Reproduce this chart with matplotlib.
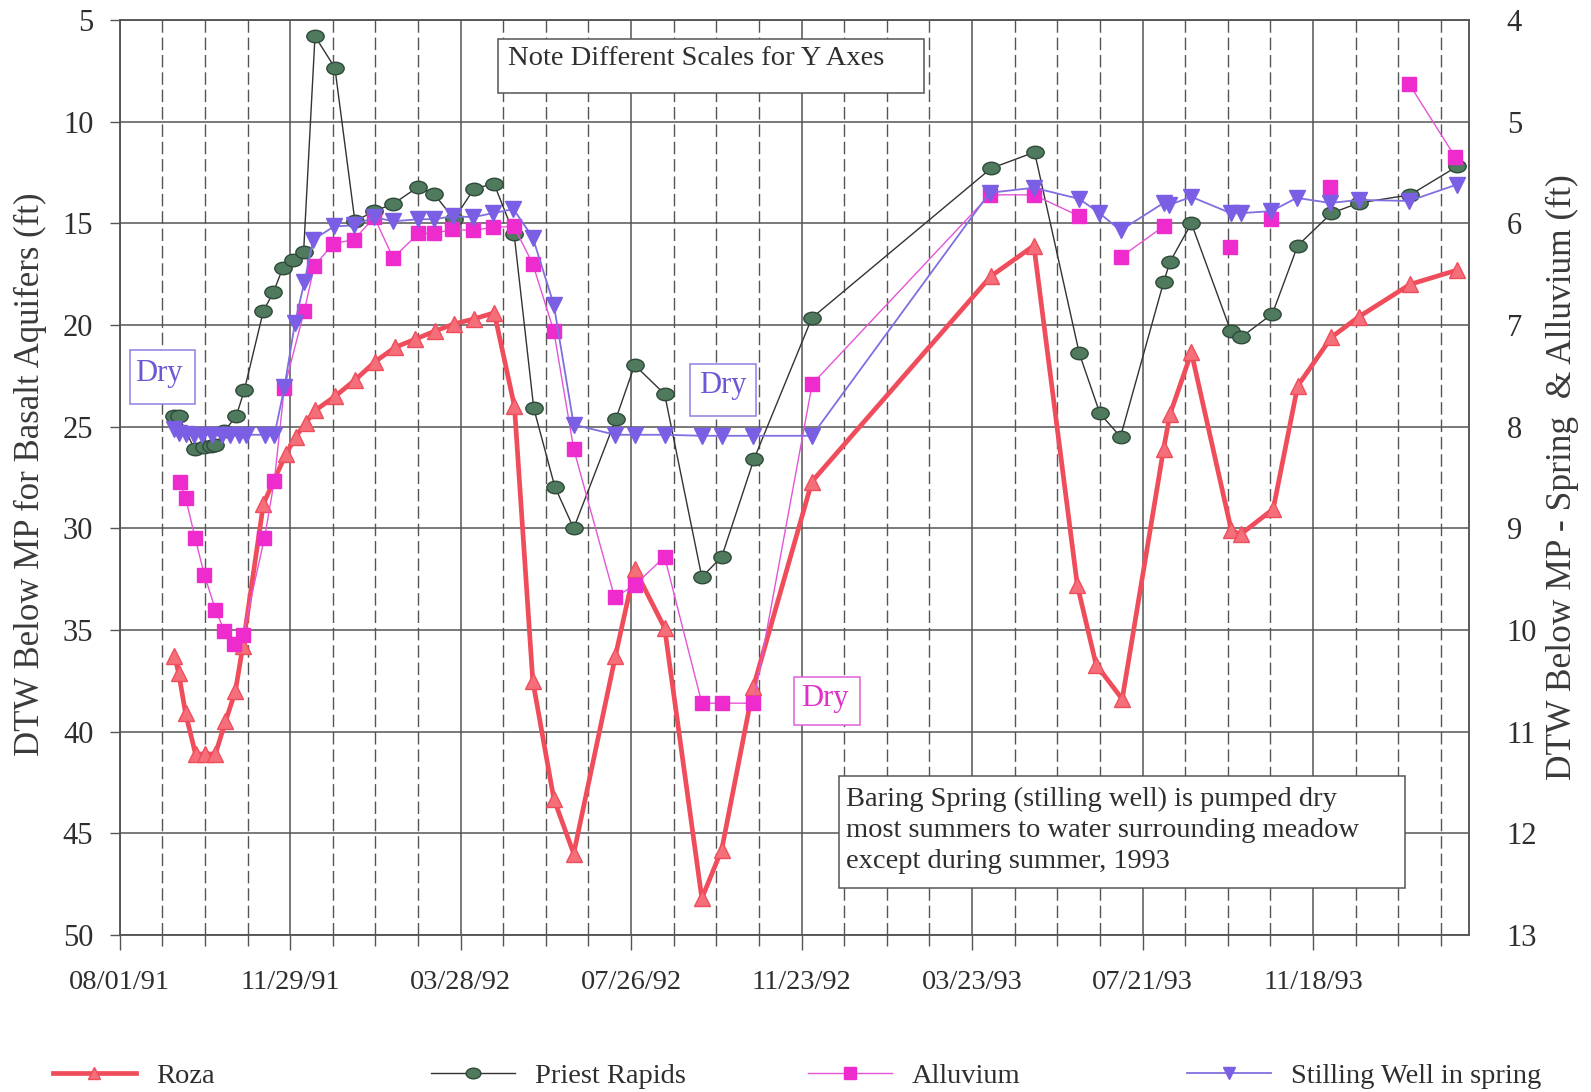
import numpy as np
import matplotlib
matplotlib.use('Agg')
import matplotlib.pyplot as plt
from matplotlib.path import Path
from matplotlib.transforms import Affine2D
from matplotlib.patches import Rectangle

plt.rcParams['font.family'] = ['Liberation Serif', 'DejaVu Serif']

# days after 08/01/91, depth to water below measuring point (ft)
roza_day = [38.6, 41.5, 46.4, 53.4, 60.4, 67.4, 74.5, 81.5, 86.7, 101.2, 117, 124, 131,
            137.7, 151.8, 165.8, 179.9, 193.9, 208, 222, 235.4, 249.4, 263.7, 277.9,
            290.8, 305.6, 319.6, 348.9, 362.5, 383.6, 409.8, 423.8, 446.1, 487.3, 613.3,
            643.5, 674.1, 687.3, 705.7, 734.8, 739.3, 754.4, 782.5, 789, 812, 829.2, 853,
            872.2, 908.4, 941.5]
roza_dtw = [36.3, 37.1, 39.1, 41.1, 41.1, 41.1, 39.5, 38.0, 35.8, 28.8, 26.35, 25.5, 24.8,
            24.2, 23.5, 22.7, 21.8, 21.1, 20.7, 20.3, 19.95, 19.7, 19.4, 24.0,
            37.5, 43.3, 46.0, 36.3, 32.0, 34.9, 48.2, 45.8, 37.8, 27.7, 17.6,
            16.1, 32.8, 36.7, 38.4, 26.1, 24.4, 21.35, 30.1, 30.3, 29.05, 23.0, 20.6,
            19.6, 18.0, 17.3]

priest_day = [38.6, 41.5, 52.7, 59.7, 64, 67.4, 73.8, 82, 87.8, 101.2, 108.2, 114.8, 121.8,
              129.5, 137.5, 151.5, 165.6, 179.2, 192.5, 210.3, 221.3, 235.4, 249.4, 263.5,
              277.7, 291.5, 306.3, 319.6, 349.4, 362.5, 383.6, 409.8, 423.8, 446.5, 487.3,
              613.3, 644, 675.5, 690, 704.5, 734.8, 739.3, 754.4, 782.1, 789.5, 811.4,
              829.2, 853, 872.2, 908.4, 941.5]
priest_dtw = [24.5, 24.5, 26.1, 26.0, 25.95, 25.9, 25.2, 24.5, 23.2, 19.3, 18.4, 17.2, 16.8,
              16.4, 5.8, 7.35, 14.9, 14.4, 14.05, 13.2, 13.55, 14.8, 13.3, 13.05,
              15.55, 24.1, 27.95, 30.0, 24.6, 21.97, 23.4, 32.4, 31.4, 26.6, 19.65,
              12.3, 11.5, 21.4, 24.35, 25.5, 17.9, 16.9, 15.0, 20.3, 20.6, 19.45,
              16.1, 14.5, 14.0, 13.6, 12.2]

# nan marks a break in the alluvium record
alluvium_day = [42.2, 46.4, 53.2, 59.7, 67.4, 73.8, 80.8, 86.7, 101.9, 108.9, 115.9, 130,
                137, 150.4, 165.1, 179.2, 192.5, 210.3, 221.3, 234.2, 248.7, 262.8, 277.5,
                290.8, 305.6, 319.6, 348.4, 362.5, 383.6, 409.8, 423.8, 446.1, 487.5,
                612.5, 643.5, 675.5, 690, 704.9, 734.8, 760, 781.6, 795, 810.1, 830,
                852.2, 880, 907.7, 940.2]
alluvium_dtw = [8.54, 8.70, 9.10, 9.46, 9.80, 10.01, 10.14, 10.05, 9.10, 8.53, 7.62, 6.86,
                6.42, 6.20, 6.16, 5.94, 6.34, 6.10, 6.10, 6.06, 6.07, 6.04, 6.03,
                6.40, 7.06, 8.22, 9.68, 9.56, 9.28, 10.72, 10.72, 10.72, 7.58,
                5.72, 5.72, 5.93, np.nan, 6.33, 6.03, np.nan, 6.23, np.nan, 5.96, np.nan,
                5.64, np.nan, 4.63, 5.35]

well_day = [38.6, 41.5, 46.4, 52, 58, 65, 72, 78, 84, 89, 102, 109, 116, 123.4, 130,
            136.3, 151, 165.1, 179.2, 192.5, 210.3, 221.3, 234.7, 248.7, 262.8, 277.2,
            290.8, 305.6, 319.6, 348.9, 362.5, 383.6, 409.8, 423.8, 446.1, 487.3, 612.3,
            643.5, 675.5, 689.7, 704.5, 734.8, 738.5, 754.4, 782.1, 789.5, 810.6, 828.6,
            852.2, 872.2, 907.7, 941]
well_dtw = [8.02, 8.06, 8.07, 8.08, 8.08, 8.08, 8.08, 8.08, 8.08, 8.08, 8.08, 8.08, 7.61,
            6.98, 6.58, 6.16, 6.03, 6.02, 5.94, 5.98, 5.96, 5.96, 5.93, 5.94, 5.90, 5.86,
            6.14, 6.80, 7.98, 8.08, 8.08, 8.08, 8.09, 8.09, 8.09, 8.09, 5.70,
            5.65, 5.76, 5.90, 6.07, 5.80, 5.82, 5.74, 5.90, 5.90, 5.88, 5.75,
            5.80, 5.77, 5.78, 5.62]

tick_days = [0, 120, 240, 360, 480, 600, 720, 840]
tick_labels = ['08/01/91', '11/29/91', '03/28/92', '07/26/92', '11/23/92',
               '03/23/93', '07/21/93', '11/18/93']

ink = '#2e2e2e'
grid_col = '#555555'
red = '#f04d5c'
green = '#4f7a5e'
magenta = '#ee2ccd'
purple = '#7a5ee4'

fig = plt.figure(figsize=(15.91, 10.92), dpi=100)
ax = fig.add_axes([0.0752, 0.1438, 0.8483, 0.8379])
ax2 = ax.twinx()

ax.set_xlim(0, 950)
ax.set_ylim(50, 5)
ax2.set_ylim(13, 4)

ax.set_xticks(tick_days)
ax.set_xticklabels(tick_labels)
ax.set_xticks(np.arange(30, 950, 30), minor=True)
ax.set_yticks(np.arange(5, 51, 5))
ax2.set_yticks(np.arange(4, 14, 1))

ax.grid(which='major', axis='x', color=grid_col, lw=1.1, ls='-')
ax.grid(which='minor', axis='x', color=grid_col, lw=1.0, ls=(0, (9, 3.5)))
ax.grid(which='major', axis='y', color=grid_col, lw=1.1, ls='-')
ax.set_axisbelow(True)

ax.tick_params(axis='x', which='major', direction='out', length=11, width=1,
               color=grid_col, pad=14, labelsize=20.5, labelcolor=ink)
ax.tick_params(axis='x', which='minor', direction='out', length=8, width=1, color=grid_col)
ax.tick_params(axis='y', direction='out', length=7, width=1, color=grid_col,
               pad=12, labelsize=22, labelcolor=ink)
ax2.tick_params(axis='y', length=0, pad=27, labelsize=22, labelcolor=ink)

for a in (ax, ax2):
    for s in a.spines.values():
        s.set_color(grid_col)
        s.set_linewidth(1.1)

# ellipse marker for Priest Rapids
oval = Path.unit_circle().transformed(Affine2D().scale(1.0, 0.72))

ax.plot(priest_day, priest_dtw, color='#333333', lw=1.0, marker=oval, ms=12.5,
        mfc=green, mec='#2f4a38', mew=1.0, label='Priest Rapids', zorder=3)
ax.plot(roza_day, roza_dtw, color=red, lw=3.4, marker='^', ms=11,
        mfc='#f56f7a', mec=red, mew=1.0, label='Roza', zorder=4)
ax2.plot(alluvium_day, alluvium_dtw, color='#e455d6', lw=1.0, marker='s', ms=9.5,
         mfc=magenta, mec=magenta, label='Alluvium', zorder=3)
ax2.plot(well_day, well_dtw, color='#7f6fe0', lw=1.3, marker='v', ms=11,
         mfc=purple, mec=purple, label='Stilling Well in spring', zorder=4)

fig.text(0.019, 0.566, 'DTW Below MP for Basalt Aquifers (ft)', rotation=90,
         ha='center', va='center', fontsize=25, color='#3a3a3a')
fig.text(0.982, 0.563, 'DTW Below MP - Spring  & Alluvium (ft)', rotation=90,
         ha='center', va='center', fontsize=25.5, color='#3a3a3a')


def note_box(x0, y0, x1, y1, color):
    ax2.add_patch(Rectangle((x0, y1), x1 - x0, y0 - y1, transform=ax2.transAxes,
                            fill=True, facecolor='white', edgecolor=color, lw=1.1,
                            zorder=6))


note_box(0.280, 0.979, 0.596, 0.920, '#555555')
ax2.text(0.2875, 0.958, 'Note Different Scales for Y Axes', transform=ax2.transAxes,
         fontsize=20.5, color=ink, va='center', ha='left', zorder=7)

note_box(0.0074, 0.639, 0.0556, 0.580, '#9080e0')
ax2.text(0.0290, 0.614, 'Dry', transform=ax2.transAxes, fontsize=22,
         color='#6a58d6', ha='center', va='center', zorder=7)
note_box(0.4225, 0.624, 0.4715, 0.5675, '#9080e0')
ax2.text(0.447, 0.600, 'Dry', transform=ax2.transAxes, fontsize=22,
         color='#6a58d6', ha='center', va='center', zorder=7)
note_box(0.4995, 0.282, 0.5485, 0.229, '#e060d8')
ax2.text(0.5225, 0.258, 'Dry', transform=ax2.transAxes, fontsize=22,
         color='#e030c8', ha='center', va='center', zorder=7)

note_box(0.533, 0.174, 0.952, 0.0514, '#555555')
ax2.text(0.5385, 0.114, 'Baring Spring (stilling well) is pumped dry\n'
         'most summers to water surrounding meadow\nexcept during summer, 1993',
         transform=ax2.transAxes, fontsize=20.5, color=ink, ha='left', va='center',
         linespacing=1.32, zorder=7)

# legend entries spaced evenly along the bottom edge
handles = dict((l.get_label(), l) for l in ax.get_lines() + ax2.get_lines())
for name, x in [('Roza', 0.033), ('Priest Rapids', 0.271),
                ('Alluvium', 0.508), ('Stilling Well in spring', 0.746)]:
    fig.legend(handles=[handles[name]], loc='center left', bbox_to_anchor=(x, 0.0150),
               frameon=False, fontsize=20.5, handlelength=2.95, handletextpad=0.7,
               borderpad=0, borderaxespad=0, markerscale=0.85, labelcolor=ink)

fig.savefig('out.png', dpi=100, facecolor='white')
